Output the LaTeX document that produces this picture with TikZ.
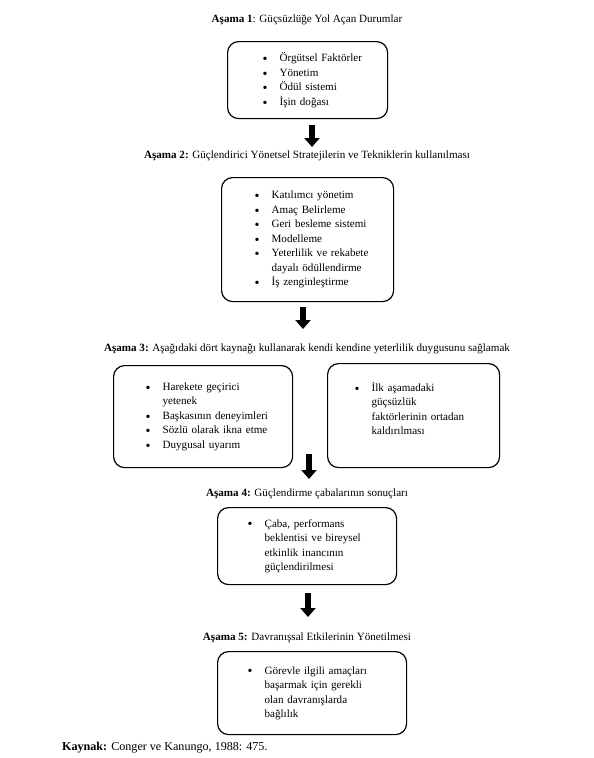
\documentclass[tikz,border=0pt]{standalone}
\usepackage{fontspec}
\setmainfont{Liberation Serif}
\usetikzlibrary{arrows.meta}

\newlength\ind
\newcommand\itm[1]{\hspace*{\ind}\makebox[17pt][l]{\raisebox{-1.9pt}{\fontsize{14}{14}\selectfont\textbullet}}#1}
\newcommand\cnt[1]{\hspace*{\ind}\hspace*{17pt}#1}

\tikzset{
	stagebox/.style={draw, line width=1.2pt, rounded corners=11pt, anchor=north west,
		align=left, inner xsep=4pt, inner ysep=2pt,
		font=\fontsize{11.1}{14.5}\selectfont},
	listindent/.style={execute at begin node={\setlength{\ind}{#1}}},
	stagetitle/.style={anchor=base, inner sep=0pt, font=\fontsize{11.1}{14.5}\selectfont},
	bigarrow/.style={line width=6.5pt, -{Triangle[width=15pt,length=9pt]}}
}

\begin{document}
\begin{tikzpicture}[x=1pt,y=-1pt]
\useasboundingbox (0,0) rectangle (594,758);

% Asama 1
\node[stagetitle] (s1) at (307,22) {\textbf{Aşama 1}: Güçsüzlüğe Yol Açan Durumlar};
\node[stagebox, listindent=31pt, text width=152pt, minimum height=77pt] (box1) at (227,41)
	{\itm{Örgütsel Faktörler}\\ \itm{Yönetim}\\ \itm{Ödül sistemi}\\ \itm{İşin doğası}};

% Asama 2
\node[stagetitle] (s2) at (307,158) {\textbf{Aşama 2:} Güçlendirici Yönetsel Stratejilerin ve Tekniklerin kullanılması};
\node[stagebox, listindent=29pt, text width=164pt, minimum height=124pt] (box2) at (221,177)
	{\itm{Katılımcı yönetim}\\ \itm{Amaç Belirleme}\\ \itm{Geri besleme sistemi}\\ \itm{Modelleme}\\
	 \itm{Yeterlilik ve rekabete}\\ \cnt{dayalı ödüllendirme}\\ \itm{İş zenginleştirme}};

% Asama 3
\node[stagetitle] (s3) at (307,351) {\textbf{Aşama 3:} Aşağıdaki dört kaynağı kullanarak kendi kendine yeterlilik duygusunu sağlamak};
\node[stagebox, listindent=28pt, text width=171pt, minimum height=102pt] (box3a) at (113,365)
	{\itm{Harekete geçirici}\\ \cnt{yetenek}\\ \itm{Başkasının deneyimleri}\\ \itm{Sözlü olarak ikna etme}\\ \itm{Duygusal uyarım}};
\node[stagebox, listindent=23pt, text width=164pt, minimum height=104pt] (box3b) at (327,363)
	{\itm{İlk aşamadaki}\\ \cnt{güçsüzlük}\\ \cnt{faktörlerinin ortadan}\\ \cnt{kaldırılması}\\ ~};

% Asama 4
\node[stagetitle] (s4) at (307,496) {\textbf{Aşama 4:} Güçlendirme çabalarının sonuçları};
\node[stagebox, listindent=26pt, text width=171pt, minimum height=77pt] (box4) at (217,507)
	{\itm{Çaba, performans}\\ \cnt{beklentisi ve bireysel}\\ \cnt{etkinlik inancının}\\ \cnt{güçlendirilmesi}};

% Asama 5
\node[stagetitle] (s5) at (307,640) {\textbf{Aşama 5:} Davranışsal Etkilerinin Yönetilmesi};
\node[stagebox, listindent=26pt, text width=181pt, minimum height=83pt] (box5) at (217,651)
	{\itm{Görevle ilgili amaçları}\\ \cnt{başarmak için gerekli}\\ \cnt{olan davranışlarda}\\ \cnt{bağlılık}};

\node[anchor=base west, inner sep=0pt, font=\fontsize{12.1}{14}\selectfont] (kaynak) at (62,750)
	{\textbf{Kaynak:} Conger ve Kanungo, 1988: 475.};

% arrows
\coordinate (a1) at (312,125); \coordinate (b1) at (312,147);
\coordinate (a2) at (303,307); \coordinate (b2) at (303,329);
\coordinate (a3) at (309,454); \coordinate (b3) at (309,479);
\coordinate (a4) at (308,593); \coordinate (b4) at (308,617);
\foreach \i in {1,...,4}
	\draw[bigarrow] (a\i) -- (b\i);

\end{tikzpicture}
\end{document}
